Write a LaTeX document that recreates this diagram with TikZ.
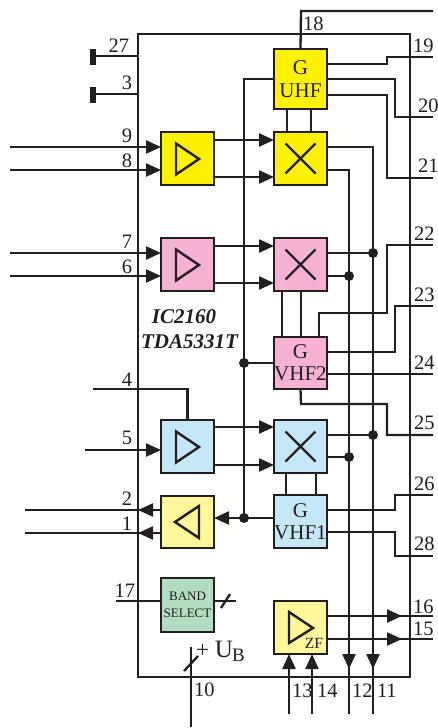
\documentclass[tikz,border=0pt]{standalone}
\usepackage{fontspec}
\setmainfont{Liberation Serif}
\usetikzlibrary{arrows.meta}
\definecolor{ink}{HTML}{231F20}
\definecolor{cyel}{HTML}{FFF200}
\definecolor{cpink}{HTML}{F5B2D2}
\definecolor{cblue}{HTML}{C5E8F8}
\definecolor{cpale}{HTML}{FFF799}
\definecolor{cgreen}{HTML}{B2DDC0}
\tikzset{
  wire/.style={draw=ink,line width=2.3pt,line join=miter},
  tipped/.style={wire,-{Triangle[length=15pt,width=13pt,color=ink]}},
  bx/.style={draw=ink,line width=2.4pt,rectangle,inner sep=0pt,outer sep=0pt,minimum width=53pt,text=ink,align=center,
    font=\fontsize{21}{22}\selectfont},
  sym/.style={draw=ink,line width=2.4pt,line join=miter},
  pin/.style={inner sep=0pt,outer sep=0pt,text=ink,anchor=base west,font=\fontsize{20.5}{22}\selectfont},
  pinr/.style={pin,anchor=base east},
  dot/.style={circle,fill=ink,inner sep=0pt,minimum size=10pt},
  title/.style={inner sep=0pt,text=ink,anchor=base,font=\fontsize{21}{25}\selectfont\bfseries\itshape},
}
\begin{document}
\begin{tikzpicture}[x=1pt,y=-1pt]
\useasboundingbox[fill=white] (0,0) rectangle (438,728);
% IC outline
\draw[wire] (138,34) rectangle (410,677);
% free pin ends
\foreach \n/\x/\y in {p27/93/56,p3/93/94,p9/10/147,p8/10/170,p7/10/253,p6/10/276,p4/93/389,p5/85/450,
  p2/25/510,p1/25/533,p17/116/601,p10/191/727,p10t/191/647,p18/433/11,p19/433/57,p20/433/117,p21/433/178,
  p22/433/245,p23/433/306,p24/433/374,p25/433/435,p26/433/495,p28/433/556,p16/433/616,p15/433/639,
  p13/289/714,p14/312/714,p12/349/714,p11/373/714,bs/236/601}
  {\coordinate (\n) at (\x,\y);}
% boxes
\node[bx,fill=cyel,minimum height=60pt] (guhf) at (300.5,79) {G\\[1.5pt]UHF};
\node[bx,fill=cyel,minimum height=53pt] (mu) at (300.5,158.5) {};
\node[bx,fill=cyel,minimum height=53pt] (au) at (187.5,158.5) {};
\node[bx,fill=cpink,minimum height=53pt] (mp) at (300.5,264.5) {};
\node[bx,fill=cpink,minimum height=53pt] (ap) at (187.5,264.5) {};
\node[bx,fill=cpink,minimum height=52pt] (gv2) at (300.5,363) {G\\VHF2};
\node[bx,fill=cblue,minimum height=53pt] (mb) at (300.5,446.5) {};
\node[bx,fill=cblue,minimum height=53pt] (ab) at (187.5,446.5) {};
\node[bx,fill=cblue,minimum height=53pt] (gv1) at (300.5,521.5) {G\\VHF1};
\node[bx,fill=cpale,minimum height=52pt] (buf) at (187.5,522) {};
\node[bx,fill=cgreen,minimum height=54pt,font=\fontsize{13}{17}\selectfont] (band) at (187.5,605) {BAND\\SELECT};
\node[bx,fill=cpale,minimum height=53pt] (zf) at (300.5,627.5) {};
% amplifier triangles and mixer crosses
\foreach \y in {159,265,447}
  \draw[sym] (176,\y-15.5) -- (176,\y+15.5) -- (199,\y) -- cycle;
\draw[sym] (199,506) -- (199,538) -- (175,522) -- cycle;
\draw[sym] (289,612) -- (289,643) -- (313,628) -- cycle;
\foreach \y in {158.5,264.5,446.5}{
  \draw[sym] (285.5,\y-15) -- (315.5,\y+15);
  \draw[sym] (285.5,\y+15) -- (315.5,\y-15);
}
\node[inner sep=0pt,text=ink,font=\fontsize{15.5}{17}\selectfont] (zft) at (314,643) {ZF};
% ground pins
\draw[wire] (p27) -- (138,56);
\draw[wire] (p3) -- (138,94);
\draw[ink,fill=ink] (90.5,49) rectangle (95,64);
\draw[ink,fill=ink] (90.5,87) rectangle (95,102);
% inputs
\draw[tipped] (p9) -- (au.west |- p9);
\draw[tipped] (p8) -- (au.west |- p8);
\draw[tipped] (p7) -- (ap.west |- p7);
\draw[tipped] (p6) -- (ap.west |- p6);
\draw[tipped] (p5) -- (ab.west |- p5);
\draw[wire] (p4) -- (ab.north |- p4) -- (ab.north);
% amp to mixer
\foreach \a/\m/\y in {au/mu/140,au/mu/177,ap/mp/246,ap/mp/283,ab/mb/427,ab/mb/465}
  \draw[tipped] (\a.east |- 0,\y) -- (\m.west |- 0,\y);
% oscillator to mixer
\foreach \x in {287,311} \draw[wire] (\x,109) -- (\x,132);
\foreach \x in {282,301} \draw[wire] (\x,291) -- (\x,337);
\foreach \x in {286,316} \draw[wire] (\x,473) -- (\x,495);
% LO bus
\node[dot] (d1) at (244,363) {};
\node[dot] (d2) at (244,518) {};
\draw[wire] (guhf.west |- 0,79) -- (244,79) -- (d2.center);
\draw[wire] (gv2.west |- d1) -- (d1.center);
\draw[wire] (gv1.west |- d2) -- (d2.center);
\draw[tipped] (d2.center) -- (buf.east |- d2);
% G UHF pins
\draw[wire] (guhf.north) -- (301,11) -- (p18);
\draw[wire] (guhf.east |- 0,64) -- (387,64) -- (387,57) -- (p19);
\draw[wire] (guhf.east |- 0,79) -- (395,79) -- (395,117) -- (p20);
\draw[wire] (guhf.east |- 0,95) -- (387,95) -- (387,178) -- (p21);
% G VHF2 pins
\draw[wire] (319,337) -- (319,313) -- (387,313) -- (387,245) -- (p22);
\draw[wire] (gv2.east |- 0,352) -- (395,352) -- (395,306) -- (p23);
\draw[wire] (gv2.east |- p24) -- (p24);
\draw[wire] (gv2.south) -- (301,404) -- (387,404) -- (387,435) -- (p25);
% G VHF1 pins
\draw[wire] (gv1.east |- 0,510) -- (395,510) -- (395,495) -- (p26);
\draw[wire] (gv1.east |- 0,532) -- (395,532) -- (395,556) -- (p28);
% mixer outputs, pins 11 and 12
\node[dot] (d3) at (373,253) {};
\node[dot] (d4) at (349,276) {};
\node[dot] (d5) at (373,435) {};
\node[dot] (d6) at (349,457) {};
\draw[tipped] (mu.east |- 0,147) -- (373,147) -- (373,669);
\draw[tipped] (mu.east |- 0,170) -- (349,170) -- (349,669);
\draw[wire] (373,660) -- (p11);
\draw[wire] (349,660) -- (p12);
\draw[wire] (mp.east |- d3) -- (d3.center);
\draw[wire] (mp.east |- d4) -- (d4.center);
\draw[wire] (mb.east |- d5) -- (d5.center);
\draw[wire] (mb.east |- d6) -- (d6.center);
% buffer outputs
\draw[tipped] (buf.west |- p2) -- (p2 -| 138,0);
\draw[tipped] (buf.west |- p1) -- (p1 -| 138,0);
\draw[wire] (145,510) -- (p2);
\draw[wire] (145,533) -- (p1);
% band select
\draw[wire] (p17) -- (band.west |- p17);
\draw[wire] (band.east |- bs) -- (bs);
\draw[wire] (221,608) -- (230,594);
% supply
\draw[wire] (p10t) -- (p10);
\draw[wire] (184,671) -- (198,656);
% ZF
\draw[tipped] (zf.east |- p16) -- (402,616);
\draw[tipped] (zf.east |- p15) -- (402,639);
\draw[wire] (395,616) -- (p16);
\draw[wire] (395,639) -- (p15);
\draw[tipped] (p13) -- (p13 |- zf.south);
\draw[tipped] (p14) -- (p14 |- zf.south);
% labels
\foreach \n/\x/\y in {27/129/52,3/132/89,9/132/142,8/132/167,7/132/248,6/132/273,4/132/386,5/132/444,2/132/505,1/132/530,17/135/597}
  \node[pinr] (l\n) at (\x,\y) {\n};
\foreach \n/\x/\y in {18/303/30,19/413/52,20/418/112,21/418/172,22/414/240,23/414/301,24/414/369,25/414/429,26/414/490,28/414/550,16/413/613,15/413/635,13/292/697,14/317/697,12/352/697,11/377/697,10/194/696}
  \node[pin] (l\n) at (\x,\y) {\n};
\node[pin,font=\fontsize{25}{26}\selectfont] (ub) at (196,657) {{\fontsize{23}{24}\selectfont +}\hspace{6pt}U\hspace{-1pt}\raisebox{-4pt}{\fontsize{19}{20}\selectfont B}};
\node[title] (t1) at (184,323) {IC2160};
\node[title] (t2) at (189.5,348) {TDA5331T};
\end{tikzpicture}
\end{document}
